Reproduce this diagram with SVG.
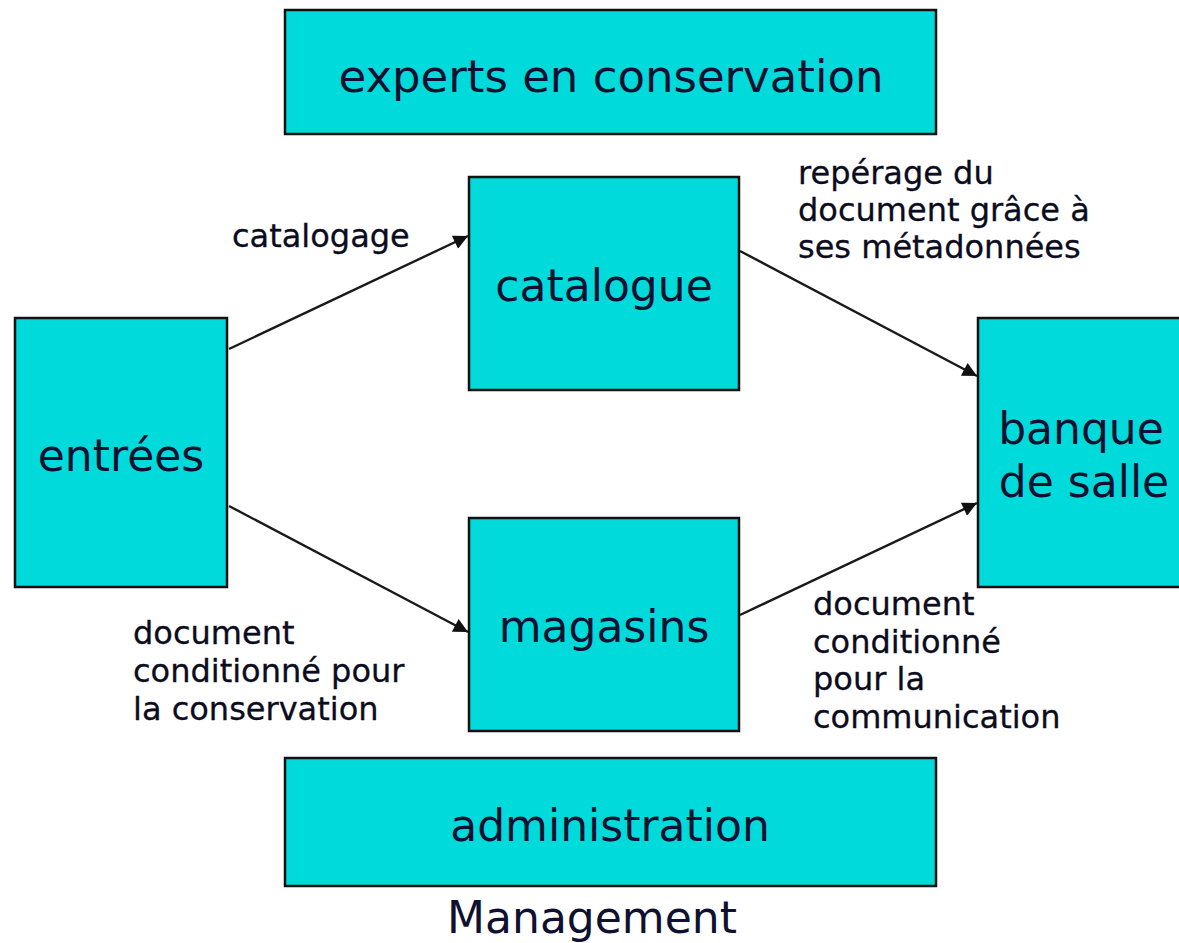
<svg xmlns="http://www.w3.org/2000/svg" width="1179" height="943" viewBox="0 0 1179 943">
<style>
.box{fill:#00DADA;stroke:#111;stroke-width:2.5}
.nt{font-family:"DejaVu Sans",Verdana,sans-serif;font-size:44px;fill:#101030;text-anchor:middle}
.lt{font-family:"DejaVu Sans",Verdana,sans-serif;font-size:32px;fill:#0c0c20;stroke:#0c0c20;stroke-width:0.3}
.edge{stroke:#1a1a1a;stroke-width:2.4;fill:none;marker-end:url(#ah)}
</style>
<defs>
<marker id="ah" viewBox="0 0 10 10" refX="10" refY="5" markerWidth="7" markerHeight="6" markerUnits="strokeWidth" orient="auto">
<path d="M0,0 L10,5 L0,10 z" fill="#111"/>
</marker>
</defs>
<rect width="1179" height="943" fill="#fff"/>
<g id="experts"><rect class="box" x="285" y="10" width="651" height="124"/><text class="nt" x="611" y="92" style="font-size:45px">experts en conservation</text></g>
<g id="entrees"><rect class="box" x="15" y="318" width="212" height="269"/><text class="nt" x="121" y="471">entrées</text></g>
<g id="catalogue"><rect class="box" x="469" y="177" width="270" height="213"/><text class="nt" x="604" y="301">catalogue</text></g>
<g id="magasins"><rect class="box" x="469" y="518" width="270" height="213"/><text class="nt" x="604" y="642">magasins</text></g>
<g id="banque"><rect class="box" x="978" y="318" width="210" height="269"/><text class="nt" x="1081" y="444">banque</text><text class="nt" x="1084" y="497">de salle</text></g>
<g id="administration"><rect class="box" x="285" y="758" width="651" height="128"/><text class="nt" x="610" y="841">administration</text></g>
<text class="nt" x="592" y="933">Management</text>
<g id="connectors">
<line class="edge" x1="229" y1="349" x2="468" y2="236"/>
<line class="edge" x1="740" y1="251" x2="977" y2="376"/>
<line class="edge" x1="229" y1="506" x2="468" y2="632"/>
<line class="edge" x1="740" y1="615" x2="977" y2="503"/>
</g>
<g id="labels">
<text class="lt" x="232" y="247">catalogage</text>
<text class="lt" x="798" y="184">repérage du</text>
<text class="lt" x="798" y="221">document grâce à</text>
<text class="lt" x="798" y="258">ses métadonnées</text>
<text class="lt" x="133" y="644">document</text>
<text class="lt" x="133" y="682">conditionné pour</text>
<text class="lt" x="133" y="720">la conservation</text>
<text class="lt" x="813" y="615">document</text>
<text class="lt" x="813" y="653">conditionné</text>
<text class="lt" x="813" y="690">pour la</text>
<text class="lt" x="813" y="728">communication</text>
</g>
</svg>
